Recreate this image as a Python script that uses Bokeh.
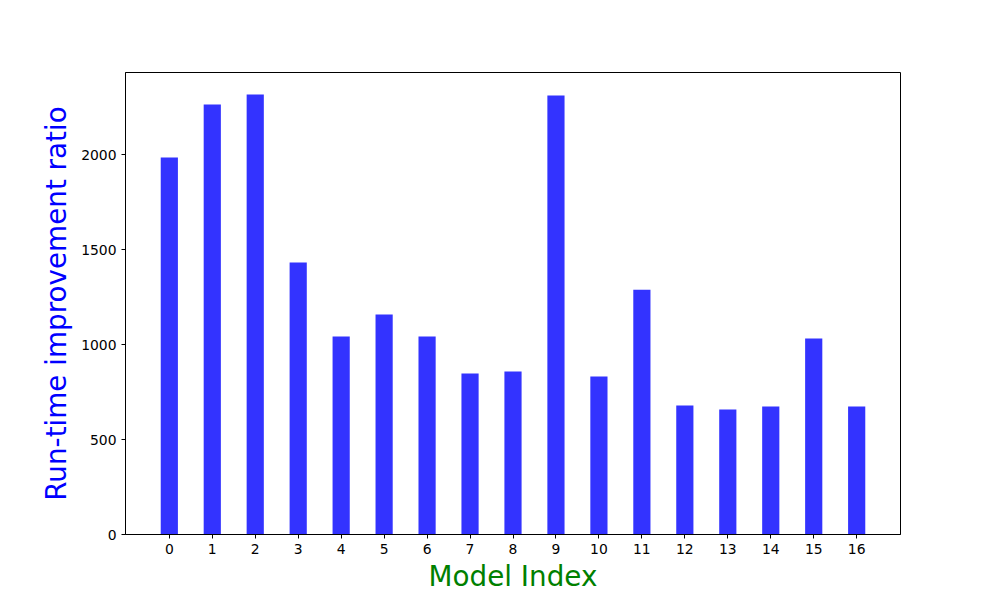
from bokeh.plotting import figure
from bokeh.models import FixedTicker, Range1d
from bokeh.embed import file_html
from bokeh.resources import INLINE

model_index = list(range(17))
ratios = [1984, 2263, 2316, 1432, 1042, 1158, 1042, 847, 858, 2311,
          832, 1289, 679, 658, 674, 1032, 674]
y_ticks = [0, 500, 1000, 1500, 2000]

p = figure(width=1000, height=600, output_backend="svg", toolbar_location=None,
           x_range=Range1d(-1.02, 17.02), y_range=Range1d(0, 2432),
           min_border_left=125, min_border_right=100, min_border_top=72,
           min_border_bottom=66)
p.frame_width = 775
p.frame_height = 462

p.vbar(x=model_index, top=ratios, width=0.4, fill_color="#3333ff",
       line_color=None)

p.xgrid.visible = False
p.ygrid.visible = False
p.outline_line_color = "black"
p.outline_line_width = 1
p.background_fill_color = "white"
p.border_fill_color = "white"

p.xaxis.ticker = FixedTicker(ticks=model_index)
p.yaxis.ticker = FixedTicker(ticks=y_ticks)
for ax in (p.xaxis, p.yaxis):
    ax.axis_line_color = "black"
    ax.major_tick_line_color = "black"
    ax.major_tick_out = 4
    ax.major_tick_in = 0
    ax.minor_tick_line_color = None
    ax.major_label_text_font = "DejaVu Sans"
    ax.major_label_text_font_size = "13.9px"
    ax.major_label_text_color = "black"
    ax.axis_label_text_font = "DejaVu Sans"
    ax.axis_label_text_font_size = "27.8px"
    ax.axis_label_text_font_style = "normal"

p.xaxis.axis_label = "Model Index"
p.xaxis.axis_label_text_color = "green"
p.xaxis.axis_label_standoff = 3
p.yaxis.axis_label = "Run-time improvement ratio"
p.yaxis.axis_label_text_color = "blue"
p.yaxis.axis_label_standoff = 5

open("out.html", "w").write(file_html(p, INLINE))
